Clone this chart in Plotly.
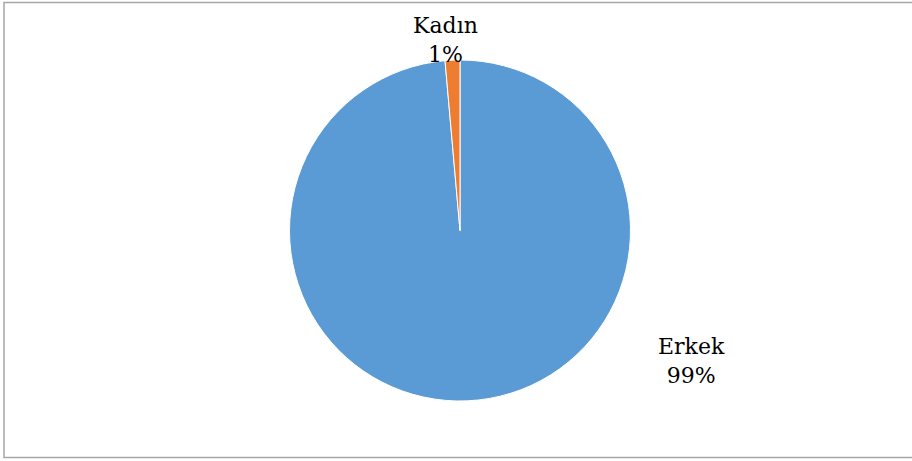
import plotly.graph_objects as go

labels = ["Erkek", "Kadın"]
values = [98.6, 1.4]
colors = ["#5B9BD5", "#ED7D31"]
label_texts = ["Erkek<br>99%", "Kadın<br>1%"]

W, H = 912, 461

fig = go.Figure()
fig.add_trace(go.Pie(
    labels=labels,
    values=values,
    sort=False,
    direction="clockwise",
    rotation=0,
    marker=dict(colors=colors, line=dict(color="white", width=1)),
    textinfo="none",
    hoverinfo="label+percent",
    showlegend=False,
    domain=dict(x=[289 / W, 631 / W], y=[1 - 401 / H, 1 - 60 / H]),
))

label_pos = [(691, 361), (445, 40)]
for txt, (px, py) in zip(label_texts, label_pos):
    fig.add_annotation(
        x=px / W, y=1 - py / H, xref="paper", yref="paper",
        text=txt, showarrow=False, xanchor="center", yanchor="middle",
        font=dict(family="DejaVu Serif", size=22, color="#000000"),
    )

fig.add_shape(type="rect", xref="paper", yref="paper",
              x0=4 / W, x1=916 / W, y0=1 - 457.5 / H, y1=1 - 2.5 / H,
              line=dict(color="#A6A6A6", width=1.5))

fig.update_layout(
    width=W, height=H,
    margin=dict(l=0, r=0, t=0, b=0),
    paper_bgcolor="white",
    plot_bgcolor="white",
)

fig.write_html("out.html",
               config={"displayModeBar": False},
               post_script="document.body.style.margin='0';document.body.style.overflow='hidden';")
